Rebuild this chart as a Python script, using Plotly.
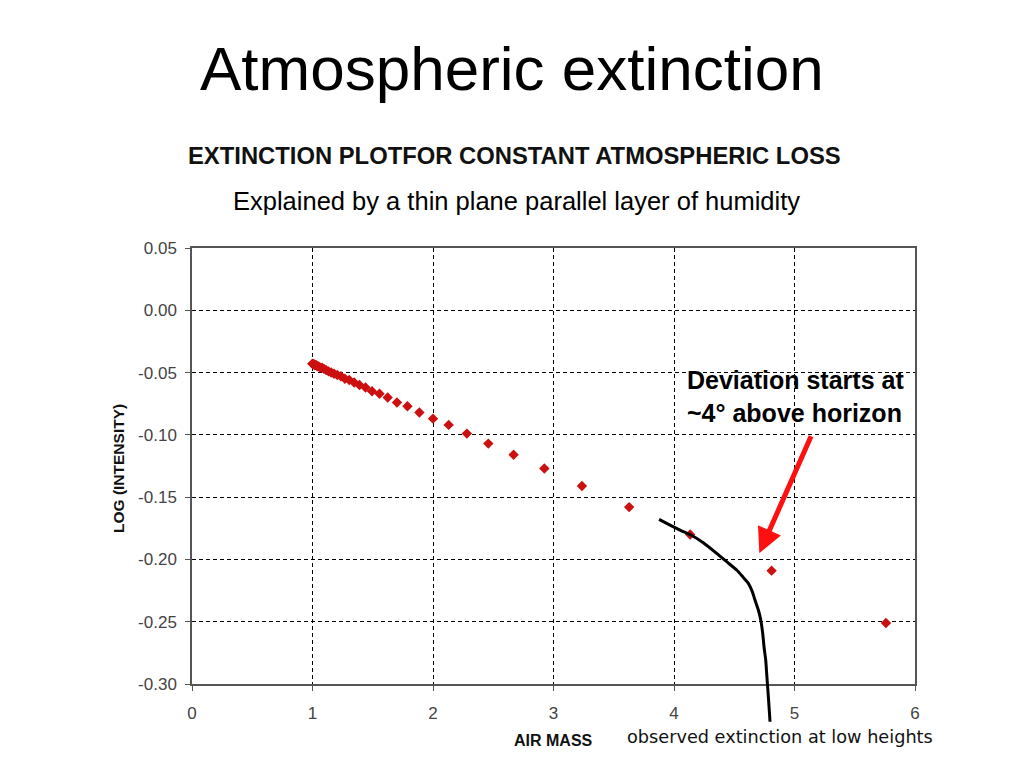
import plotly.graph_objects as go

# measured points: air mass vs log intensity
air_mass = [1.000, 1.001, 1.002, 1.006, 1.010, 1.015, 1.022, 1.031, 1.040, 1.051,
            1.064, 1.079, 1.095, 1.113, 1.133, 1.155, 1.179, 1.206, 1.236, 1.269,
            1.305, 1.346, 1.390, 1.440, 1.494, 1.556, 1.624, 1.701, 1.788, 1.887,
            2.000, 2.130, 2.281, 2.459, 2.669, 2.924, 3.236, 3.628, 4.134, 4.810,
            5.759]
log_int = [-0.043, -0.043, -0.043, -0.043, -0.043, -0.044, -0.044, -0.044, -0.045, -0.045,
           -0.046, -0.046, -0.047, -0.048, -0.049, -0.050, -0.051, -0.052, -0.053, -0.055,
           -0.056, -0.058, -0.060, -0.062, -0.065, -0.067, -0.070, -0.074, -0.077, -0.082,
           -0.087, -0.092, -0.099, -0.107, -0.116, -0.127, -0.141, -0.158, -0.180, -0.209,
           -0.251]

# observed extinction at low heights (black curve)
obs_x = [3.876, 3.967, 4.050, 4.141, 4.243, 4.354, 4.437, 4.520, 4.575, 4.617,
         4.650, 4.672, 4.700, 4.720, 4.736, 4.747, 4.761, 4.769, 4.783, 4.797]
obs_y = [-0.1678, -0.1724, -0.1764, -0.1804, -0.1866, -0.1951, -0.2018, -0.2085, -0.2144, -0.2192,
         -0.2259, -0.2326, -0.2406, -0.2486, -0.2593, -0.2701, -0.2807, -0.2914, -0.3102, -0.3303]

y_ticks = [0.05, 0.00, -0.05, -0.10, -0.15, -0.20, -0.25, -0.30]
y_labels = ['0.05', '0.00', '-0.05', '-0.10', '-0.15', '-0.20', '-0.25', '-0.30']
x_ticks = [0, 1, 2, 3, 4, 5, 6]

W, H = 1024, 768
OFF = 8  # page body margin
L, R, T, B = 192 - OFF, 117, 248 - OFF, 52
ph = H - T - B
pw = W - L - R
extra = 40  # room below the x axis for the curve to run on


def px(x):
    return (x - OFF - L) / pw


def py(y):
    return (H - B - (y - OFF)) / ph


y_lo = -0.30 - 0.35 * extra / (ph - extra)

fig = go.Figure()
fig.add_trace(go.Scatter(x=air_mass, y=log_int, mode='markers',
                         marker=dict(symbol='diamond', size=8, color='#cc1010'),
                         showlegend=False))
fig.add_trace(go.Scatter(x=obs_x, y=obs_y, mode='lines', xaxis='x2', yaxis='y2',
                         line=dict(color='black', width=3, shape='spline', smoothing=0.6),
                         showlegend=False))

tickfont = dict(family='Liberation Sans', size=17, color='#444')
fig.update_layout(
    width=W, height=H,
    margin=dict(l=L, r=R, t=T, b=B),
    paper_bgcolor='white', plot_bgcolor='rgba(0,0,0,0)',
    xaxis=dict(range=[0, 6], tickvals=x_ticks, showgrid=True, gridcolor='black',
               griddash='4px,3px', gridwidth=1, zeroline=False, showline=True,
               linecolor='#555', linewidth=1.5, mirror=True, ticks='outside',
               ticklen=5, tickcolor='#555', tickfont=tickfont, anchor='y',
               ticklabelstandoff=8),
    yaxis=dict(range=[-0.30, 0.05], domain=[extra / ph, 1], tickvals=y_ticks,
               ticktext=y_labels, showgrid=True, gridcolor='black',
               griddash='4px,3px', gridwidth=1, zeroline=False, showline=True,
               linecolor='#555', linewidth=1.5, mirror=True, ticks='outside',
               ticklen=5, tickcolor='#555', tickfont=tickfont, ticklabelstandoff=5),
    xaxis2=dict(range=[0, 6], domain=[0, 1], anchor='y2', visible=False),
    yaxis2=dict(range=[y_lo, 0.05], domain=[0, 1], anchor='x2', visible=False),
)

ann = [
    dict(text='Atmospheric extinction', x=px(512), y=py(68),
         font=dict(family='Liberation Sans', size=62, color='black')),
    dict(text='<b>EXTINCTION PLOTFOR CONSTANT ATMOSPHERIC LOSS</b>', x=px(514), y=py(155),
         font=dict(family='Liberation Sans', size=23.8, color='#111')),
    dict(text='Explained by a thin plane parallel layer of humidity', x=px(516), y=py(201),
         font=dict(family='Liberation Sans', size=25.5, color='black')),
    dict(text='<b>LOG (INTENSITY)</b>', x=px(118), y=py(469), textangle=-90,
         font=dict(family='Liberation Sans', size=15.5, color='#111')),
    dict(text='<b>AIR MASS</b>', x=px(553), y=py(740),
         font=dict(family='Liberation Sans', size=16, color='#111')),
    dict(text='observed extinction at low heights', x=px(780), y=py(737),
         font=dict(family='DejaVu Sans', size=17.7, color='#111')),
]
for a in ann:
    fig.add_annotation(xref='paper', yref='paper', showarrow=False,
                       xanchor='center', yanchor='middle', **a)

fig.add_annotation(text='<b>Deviation starts at<br>~4° above horizon</b>',
                   xref='paper', yref='paper', x=px(685), y=py(396),
                   xanchor='left', yanchor='middle', align='left', showarrow=False,
                   font=dict(family='Liberation Sans', size=25, color='black'))

# red arrow pointing at where the deviation begins
fig.add_annotation(text='', x=4.708, y=-0.195, ax=5.143, ay=-0.100,
                   xref='x', yref='y', axref='x', ayref='y',
                   showarrow=True, arrowhead=2, arrowsize=1, arrowwidth=5,
                   arrowcolor='#ff1010', standoff=0)

fig.write_html('out.html')
